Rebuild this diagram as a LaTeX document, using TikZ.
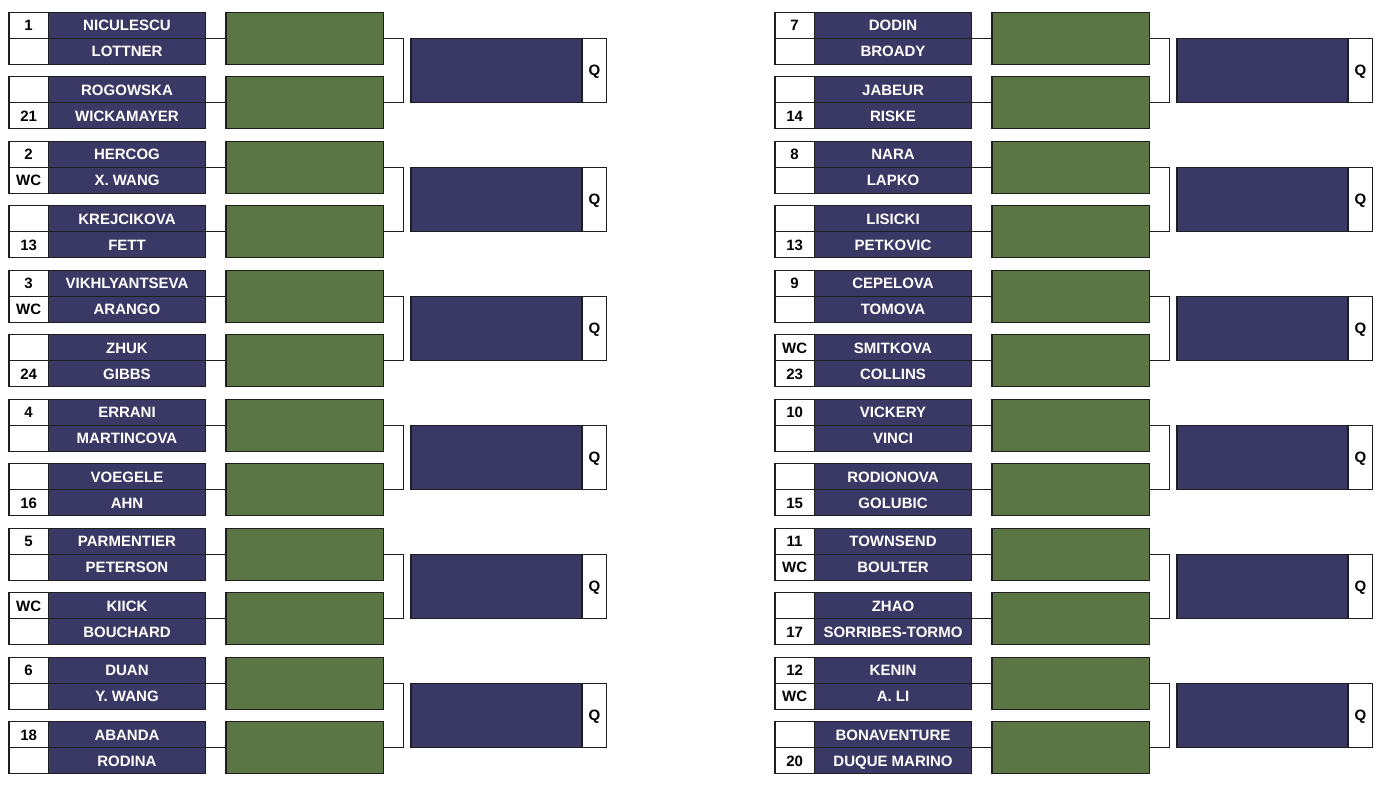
\documentclass[tikz,border=0pt]{standalone}
\usepackage{fontspec}
\setmainfont{Liberation Sans}
\definecolor{navy}{RGB}{58,56,100}
\definecolor{grn}{RGB}{91,118,68}
\definecolor{edge}{RGB}{30,30,30}
\tikzset{
 cell/.style={draw=edge, line width=1.2pt, inner sep=0pt, outer sep=0pt, anchor=north west,
   text height=10.8pt, text depth=0pt, font=\bfseries\fontsize{15}{16}\selectfont},
 seed/.style={cell, fill=white, text=black, minimum width=39.3pt, minimum height=26pt},
 pname/.style={cell, fill=navy, text=white, minimum width=157.4pt, minimum height=26pt},
 win/.style={cell, fill=grn, minimum width=157.3pt, minimum height=52pt},
 qual/.style={cell, fill=navy, minimum width=171pt, minimum height=64.4pt},
 qtag/.style={cell, fill=white, text=black, minimum width=24.7pt, minimum height=64.4pt},
 link/.style={draw=edge, line width=1.2pt},
}
\newcommand\drawmatch[7]{%
 \node[seed] (#3sa) at (#1,#2) {#4};
 \node[pname] (#3na) at (#1+39.3,#2) {#5};
 \node[seed] (#3sb) at (#1,#2+26) {#6};
 \node[pname] (#3nb) at (#1+39.3,#2+26) {#7};
 \node[win] (#3w) at (#1+217,#2) {};
 \draw[link] (#3na.south east) -- (#3w.west);
}
\newcommand\drawbracket[3]{%
 \draw[link] (#3aw.east) -- ++(20.5,0) |- (#3bw.east);
 \node[qual] (#3q) at (#1+402,#2+26) {};
 \node[qtag] (#3t) at (#1+573,#2+26) {Q};
}
\begin{document}
\begin{tikzpicture}[x=1pt,y=-1pt]
\useasboundingbox (0,0) rectangle (1384,788);
% Left column
\drawmatch{9}{12.3}{L1a}{1}{NICULESCU}{}{LOTTNER}
\drawmatch{9}{76.7}{L1b}{}{ROGOWSKA}{21}{WICKAMAYER}
\drawbracket{9}{12.3}{L1}
\drawmatch{9}{141.3}{L2a}{2}{HERCOG}{WC}{X. WANG}
\drawmatch{9}{205.7}{L2b}{}{KREJCIKOVA}{13}{FETT}
\drawbracket{9}{141.3}{L2}
\drawmatch{9}{270.3}{L3a}{3}{VIKHLYANTSEVA}{WC}{ARANGO}
\drawmatch{9}{334.7}{L3b}{}{ZHUK}{24}{GIBBS}
\drawbracket{9}{270.3}{L3}
\drawmatch{9}{399.3}{L4a}{4}{ERRANI}{}{MARTINCOVA}
\drawmatch{9}{463.7}{L4b}{}{VOEGELE}{16}{AHN}
\drawbracket{9}{399.3}{L4}
\drawmatch{9}{528.3}{L5a}{5}{PARMENTIER}{}{PETERSON}
\drawmatch{9}{592.7}{L5b}{WC}{KIICK}{}{BOUCHARD}
\drawbracket{9}{528.3}{L5}
\drawmatch{9}{657.3}{L6a}{6}{DUAN}{}{Y. WANG}
\drawmatch{9}{721.7}{L6b}{18}{ABANDA}{}{RODINA}
\drawbracket{9}{657.3}{L6}
% Right column
\drawmatch{775}{12.3}{R1a}{7}{DODIN}{}{BROADY}
\drawmatch{775}{76.7}{R1b}{}{JABEUR}{14}{RISKE}
\drawbracket{775}{12.3}{R1}
\drawmatch{775}{141.3}{R2a}{8}{NARA}{}{LAPKO}
\drawmatch{775}{205.7}{R2b}{}{LISICKI}{13}{PETKOVIC}
\drawbracket{775}{141.3}{R2}
\drawmatch{775}{270.3}{R3a}{9}{CEPELOVA}{}{TOMOVA}
\drawmatch{775}{334.7}{R3b}{WC}{SMITKOVA}{23}{COLLINS}
\drawbracket{775}{270.3}{R3}
\drawmatch{775}{399.3}{R4a}{10}{VICKERY}{}{VINCI}
\drawmatch{775}{463.7}{R4b}{}{RODIONOVA}{15}{GOLUBIC}
\drawbracket{775}{399.3}{R4}
\drawmatch{775}{528.3}{R5a}{11}{TOWNSEND}{WC}{BOULTER}
\drawmatch{775}{592.7}{R5b}{}{ZHAO}{17}{SORRIBES-TORMO}
\drawbracket{775}{528.3}{R5}
\drawmatch{775}{657.3}{R6a}{12}{KENIN}{WC}{A. LI}
\drawmatch{775}{721.7}{R6b}{}{BONAVENTURE}{20}{DUQUE MARINO}
\drawbracket{775}{657.3}{R6}
\end{tikzpicture}
\end{document}
